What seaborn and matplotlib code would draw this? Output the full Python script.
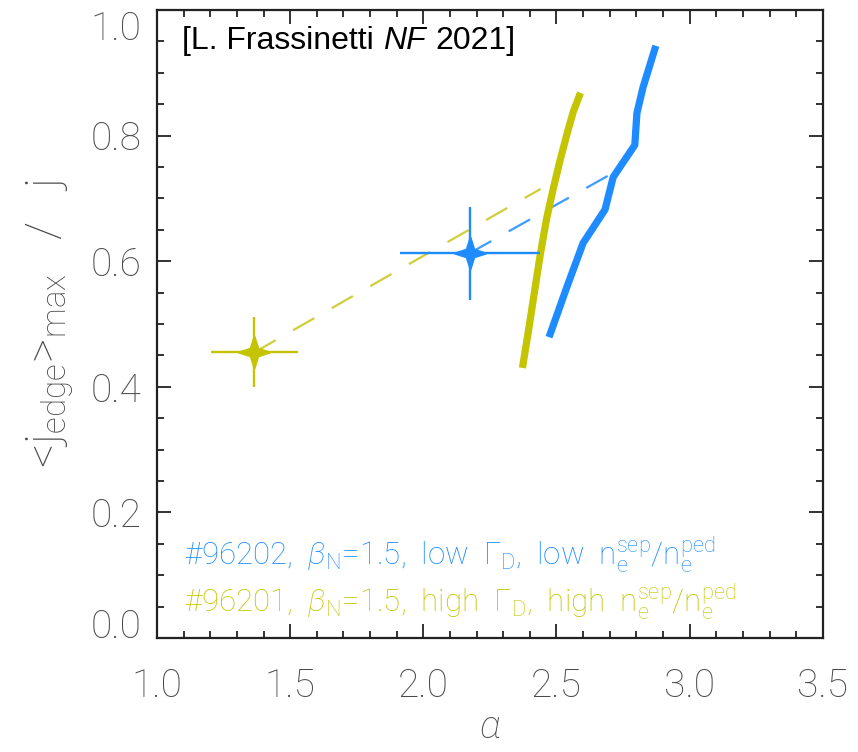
import numpy as np
import pandas as pd
import matplotlib
matplotlib.use("Agg")
import matplotlib.pyplot as plt
from matplotlib.path import Path
from matplotlib.offsetbox import TextArea, HPacker, AnchoredOffsetbox
from matplotlib.ticker import MultipleLocator
import seaborn as sns

# Shot #96202 (low gas fuelling) and #96201 (high gas fuelling)
blue_alpha = [2.472, 2.539, 2.600, 2.682, 2.713, 2.794, 2.802, 2.825, 2.873]
blue_jratio = [0.479, 0.559, 0.629, 0.682, 0.734, 0.785, 0.836, 0.877, 0.943]
yellow_alpha = [2.372, 2.395, 2.418, 2.440, 2.463, 2.487, 2.513, 2.539, 2.563, 2.590]
yellow_jratio = [0.430, 0.490, 0.553, 0.613, 0.668, 0.714, 0.760, 0.802, 0.838, 0.868]

# experimental points with uncertainties
blue_pt = dict(x=2.175, y=0.613, xerr=0.263, yerr=0.074)
yellow_pt = dict(x=1.366, y=0.455, xerr=0.165, yerr=0.056)

# trend lines from the experimental points towards the stability boundary
blue_trend_x = [2.175, 2.71]
blue_trend_y = [0.613, 0.740]
yellow_trend_x = [1.366, 2.44]
yellow_trend_y = [0.455, 0.715]

xticks = [1.0, 1.5, 2.0, 2.5, 3.0, 3.5]
yticks = [0.0, 0.2, 0.4, 0.6, 0.8, 1.0]

BLUE = "#1E8CFF"
BLUE_LIGHT = "#3C9CFF"
YELLOW = "#C4C400"
YELLOW_LIGHT = "#D0CE3C"
GREY = "#4a4a4a"

sns.set_theme(style="white")
plt.rcParams["font.family"] = ["Roboto", "DejaVu Sans"]
plt.rcParams["font.weight"] = "light"
plt.rcParams["mathtext.fontset"] = "custom"
plt.rcParams["mathtext.rm"] = "Roboto:light"
plt.rcParams["mathtext.it"] = "Roboto:italic:light"
plt.rcParams["mathtext.bf"] = "Roboto:bold"

fig = plt.figure(figsize=(8.58, 7.52), dpi=100)
ax = fig.add_axes([0.183, 0.1516, 0.776, 0.8351])

# dashed trend lines
sns.lineplot(x=yellow_trend_x, y=yellow_trend_y, ax=ax, color=YELLOW_LIGHT,
             lw=1.6, linestyle=(0, (11, 9)), zorder=2)
sns.lineplot(x=blue_trend_x, y=blue_trend_y, ax=ax, color=BLUE_LIGHT,
             lw=1.6, linestyle=(0, (11, 9)), zorder=2)

# stability boundaries
df_b = pd.DataFrame({"alpha": blue_alpha, "j": blue_jratio})
df_y = pd.DataFrame({"alpha": yellow_alpha, "j": yellow_jratio})
sns.lineplot(data=df_b, x="alpha", y="j", sort=False, ax=ax, color=BLUE,
             lw=5.2, solid_capstyle="butt", zorder=3)
sns.lineplot(data=df_y, x="alpha", y="j", sort=False, ax=ax, color=YELLOW,
             lw=5.2, solid_capstyle="butt", zorder=3)

# four-pointed star marker
star = Path.unit_regular_star(4, 0.34)

for pt, col in [(blue_pt, BLUE), (yellow_pt, YELLOW)]:
    ax.errorbar(pt["x"], pt["y"], xerr=pt["xerr"], yerr=pt["yerr"], fmt="none",
                ecolor=col, elinewidth=1.7, capsize=0, zorder=4)
    sns.scatterplot(x=[pt["x"]], y=[pt["y"]], ax=ax, marker=star, s=520,
                    color=col, edgecolor=col, linewidth=1.5, zorder=5)

ax.set_xlim(1.0, 3.5)
ax.set_ylim(0.0, 1.0)
ax.set_xticks(xticks)
ax.set_yticks(yticks)
ax.set_xticklabels([f"{v:.1f}" for v in xticks])
ax.set_yticklabels([f"{v:.1f}" for v in yticks])
ax.xaxis.set_minor_locator(MultipleLocator(0.1))
ax.yaxis.set_minor_locator(MultipleLocator(0.05))
ax.tick_params(which="both", direction="in", top=True, right=True,
               bottom=True, left=True, color="#222222", width=1.3)
ax.tick_params(which="major", length=10)
ax.tick_params(which="minor", length=5)
ax.tick_params(axis="both", which="major", labelsize=28, labelcolor=GREY)
ax.tick_params(axis="x", pad=21)
ax.tick_params(axis="y", pad=11)
for s in ax.spines.values():
    s.set_color("#222222")
    s.set_linewidth(1.6)

ylab = ax.get_yticklabels()
ylab[-1].set_va("top")
ylab[0].set_va("baseline")

ax.set_xlabel(r"$\alpha$", fontsize=28, color=GREY, labelpad=3)
ax.set_ylabel(r"<j$_{\rm edge}$>$_{\rm max}$   /   j", fontsize=34,
              color=GREY, labelpad=10, fontweight="light")

ax.text(0.04, 0.132,
        r"#96202,  $\beta_{\rm N}$=1.5,  low  $\Gamma_{\rm D}$,  low  n$_{\rm e}^{\rm sep}$/n$_{\rm e}^{\rm ped}$",
        transform=ax.transAxes, fontsize=22.5, color=BLUE, va="center", ha="left")
ax.text(0.04, 0.057,
        r"#96201,  $\beta_{\rm N}$=1.5,  high  $\Gamma_{\rm D}$,  high  n$_{\rm e}^{\rm sep}$/n$_{\rm e}^{\rm ped}$",
        transform=ax.transAxes, fontsize=22.5, color=YELLOW, va="center", ha="left")

# citation tag
tp = dict(fontsize=23, family="Liberation Sans", color="black", weight="normal")
tpi = dict(tp, style="italic")
box = HPacker(children=[TextArea("[L. Frassinetti", textprops=tp),
                        TextArea("NF", textprops=tpi),
                        TextArea("2021]", textprops=tp)],
              sep=7, pad=0, align="baseline")
anch = AnchoredOffsetbox(loc="upper left", child=box, pad=0, borderpad=0,
                         frameon=False, bbox_to_anchor=(0.037, 0.975),
                         bbox_transform=ax.transAxes)
ax.add_artist(anch)

fig.savefig("out.png", dpi=100)
